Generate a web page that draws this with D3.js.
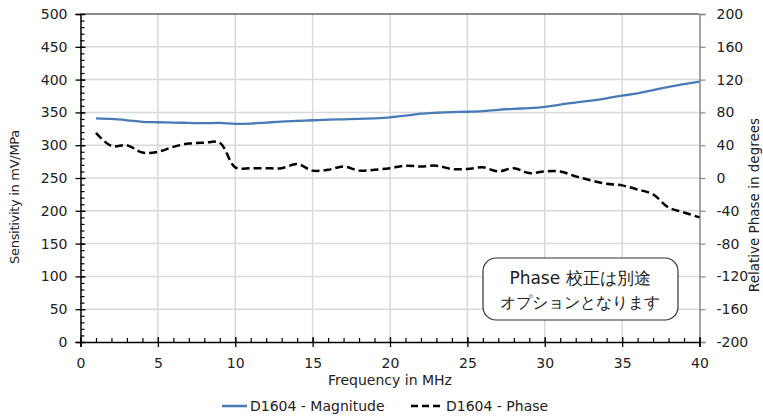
<!DOCTYPE html>
<html>
<head>
<meta charset="utf-8">
<script src="https://cdn.jsdelivr.net/npm/d3@7"></script>
<style>
    body { margin: 0; background: #fff; }
    svg { display: block; }
    text { font-family: "DejaVu Sans", Verdana, sans-serif; fill: #222; }
</style>
</head>
<body>
<svg id="chart" width="763" height="416"></svg>
<script>
let freqMHz = [1, 2, 3, 4, 5, 6, 7, 8, 9, 10, 11, 12, 13, 14, 15, 16, 17, 18, 19, 20,
    21, 22, 23, 24, 25, 26, 27, 28, 29, 30, 31, 32, 33, 34, 35, 36, 37, 38, 39, 40];

let magnitude = [341, 340, 338, 335.5, 335, 334.5, 334, 333.5, 334, 332.5,
    333, 334.5, 336, 337, 338, 339, 339.5, 340, 341, 342.5,
    345, 348, 349.5, 350.5, 351, 352, 354, 355.5, 356.5, 358.5,
    362, 365, 368, 371.5, 375.5, 379, 384, 389, 393, 397];

let phase = [55, 39, 40, 31, 32, 38, 42, 43, 43, 13,
    12, 12, 12, 17, 9, 10, 14, 9, 10, 12,
    15, 14, 15, 11, 11, 13, 8, 12, 6, 8,
    8, 2, -3, -7, -9, -14, -20, -36, -42, -48];

let xTicks = [0, 5, 10, 15, 20, 25, 30, 35, 40];
let leftTicks = [0, 50, 100, 150, 200, 250, 300, 350, 400, 450, 500];
let rightTicks = [-200, -160, -120, -80, -40, 0, 40, 80, 120, 160, 200];

let svg = d3.select('#chart');

let x = d3.scaleLinear().domain([0, 40]).range([80.5, 699.5]);
let yLeft = d3.scaleLinear().domain([0, 500]).range([342, 14]);
let yRight = d3.scaleLinear().domain([-200, 200]).range([342, 14]);

// plain hyphen for negatives, like the original
let fmt = d => String(d);

// grid
let grid = svg.append('g');
grid.selectAll('line.gx')
    .data(xTicks.slice(1, -1))
    .enter().append('line')
    .attr('x1', d => x(d)).attr('x2', d => x(d))
    .attr('y1', yLeft(500)).attr('y2', yLeft(0))
    .attr('stroke', '#d9d9d9').attr('stroke-width', 1.5);
grid.selectAll('line.gy')
    .data(leftTicks.slice(1, -1))
    .enter().append('line')
    .attr('x1', x(0)).attr('x2', x(40))
    .attr('y1', d => yLeft(d)).attr('y2', d => yLeft(d))
    .attr('stroke', '#d9d9d9').attr('stroke-width', 1.5);

// top border
svg.append('line')
    .attr('x1', x(0)).attr('x2', x(40))
    .attr('y1', yLeft(500)).attr('y2', yLeft(500))
    .attr('stroke', '#666').attr('stroke-width', 1.5);

// right axis
let rightAxis = svg.append('g')
    .attr('transform', 'translate(' + x(40) + ',0)')
    .call(d3.axisRight(yRight).tickValues(rightTicks).tickFormat(fmt).tickSize(6).tickPadding(11));
rightAxis.select('.domain').attr('stroke', '#888').attr('stroke-width', 1.5);
rightAxis.selectAll('.tick line').attr('stroke', '#888').attr('stroke-width', 1.2);
rightAxis.selectAll('text').attr('font-size', 14).attr('fill', '#222')
    .attr('font-family', '"DejaVu Sans", sans-serif');

// left axis: minor ticks inside, majors crossing
let leftMinor = svg.append('g').attr('transform', 'translate(' + x(0) + ',0)');
leftMinor.call(d3.axisLeft(yLeft).ticks(50).tickSize(-4).tickFormat(''));
leftMinor.selectAll('.tick line').attr('stroke', '#000').attr('stroke-width', 1.2);
leftMinor.select('.domain').remove();
let leftMajor = svg.append('g').attr('transform', 'translate(' + x(0) + ',0)')
    .call(d3.axisLeft(yLeft).tickValues(leftTicks).tickFormat(fmt).tickSize(5).tickPadding(8));
leftMajor.select('.domain').attr('stroke', '#000').attr('stroke-width', 1.5);
leftMajor.selectAll('.tick line').attr('x2', -5).attr('x1', 5).attr('stroke', '#000').attr('stroke-width', 1.3);
leftMajor.selectAll('text').attr('font-size', 14).attr('fill', '#222')
    .attr('font-family', '"DejaVu Sans", sans-serif');

// bottom axis
let bottomMinor = svg.append('g').attr('transform', 'translate(0,' + yLeft(0) + ')');
bottomMinor.call(d3.axisBottom(x).ticks(40).tickSize(-4).tickFormat(''));
bottomMinor.selectAll('.tick line').attr('stroke', '#000').attr('stroke-width', 1.2);
bottomMinor.select('.domain').remove();
let bottomMajor = svg.append('g').attr('transform', 'translate(0,' + yLeft(0) + ')')
    .call(d3.axisBottom(x).tickValues(xTicks).tickFormat(fmt).tickSize(5).tickPadding(11));
bottomMajor.select('.domain').attr('stroke', '#000').attr('stroke-width', 1.5);
bottomMajor.selectAll('.tick line').attr('y1', -5).attr('y2', 5).attr('stroke', '#000').attr('stroke-width', 1.3);
bottomMajor.selectAll('text').attr('font-size', 14).attr('fill', '#222')
    .attr('font-family', '"DejaVu Sans", sans-serif');

// series
let magLine = d3.line()
    .x((d, i) => x(freqMHz[i]))
    .y(d => yLeft(d))
    .curve(d3.curveCatmullRom);
let phaseLine = d3.line()
    .x((d, i) => x(freqMHz[i]))
    .y(d => yRight(d))
    .curve(d3.curveCatmullRom);

svg.append('path').datum(magnitude)
    .attr('d', magLine)
    .attr('fill', 'none')
    .attr('stroke', '#4a7bb7')
    .attr('stroke-width', 2.3);

svg.append('path').datum(phase)
    .attr('d', phaseLine)
    .attr('fill', 'none')
    .attr('stroke', '#000')
    .attr('stroke-width', 2.5)
    .attr('stroke-dasharray', '8,4');

// axis titles
svg.append('text')
    .attr('transform', 'translate(19,197) rotate(-90)')
    .attr('text-anchor', 'middle')
    .attr('font-family', '"Open Sans", sans-serif')
    .attr('font-size', 13)
    .attr('letter-spacing', -0.3)
    .text('Sensitivity in mV/MPa');

svg.append('text')
    .attr('transform', 'translate(759,205) rotate(-90)')
    .attr('text-anchor', 'middle')
    .attr('font-family', '"Open Sans", sans-serif')
    .attr('font-size', 13.5)
    .text('Relative Phase in degrees');

svg.append('text')
    .attr('x', 390).attr('y', 385)
    .attr('text-anchor', 'middle')
    .attr('font-size', 14)
    .text('Frequency in MHz');

// legend
let legend = svg.append('g');
legend.append('line')
    .attr('x1', 222).attr('x2', 247).attr('y1', 406).attr('y2', 406)
    .attr('stroke', '#4a7bb7').attr('stroke-width', 2.5);
legend.append('text')
    .attr('x', 250).attr('y', 411)
    .attr('font-size', 14)
    .text('D1604 - Magnitude');
legend.append('line')
    .attr('x1', 411).attr('x2', 441).attr('y1', 406).attr('y2', 406)
    .attr('stroke', '#000').attr('stroke-width', 2.5)
    .attr('stroke-dasharray', '7,4');
legend.append('text')
    .attr('x', 446).attr('y', 411)
    .attr('font-size', 14)
    .text('D1604 - Phase');

// note box
let note = svg.append('g');
note.append('rect')
    .attr('x', 483).attr('y', 258)
    .attr('width', 195).attr('height', 62)
    .attr('rx', 13).attr('ry', 13)
    .attr('fill', '#fff')
    .attr('stroke', '#333')
    .attr('stroke-width', 1.2);
note.append('text')
    .attr('x', 580).attr('y', 284)
    .attr('text-anchor', 'middle')
    .attr('font-family', '"Noto Sans CJK JP", sans-serif')
    .attr('font-size', 17)
    .text('Phase 校正は別途');
note.append('text')
    .attr('x', 580).attr('y', 308)
    .attr('text-anchor', 'middle')
    .attr('font-family', '"Noto Sans CJK JP", sans-serif')
    .attr('font-size', 16)
    .text('オプションとなります');
</script>
</body>
</html>
